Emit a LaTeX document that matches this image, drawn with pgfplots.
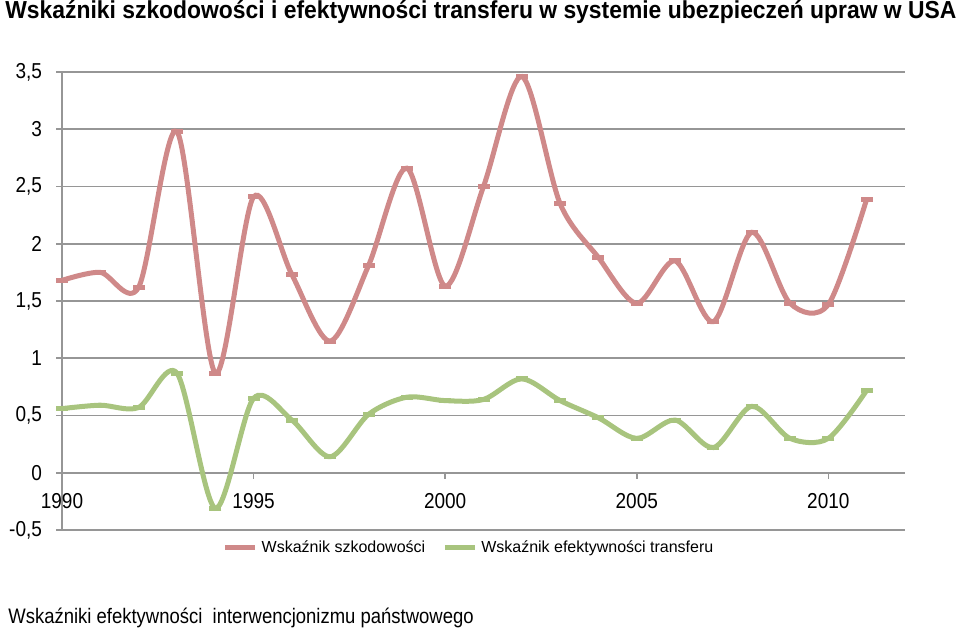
\documentclass[border=0pt]{standalone}
\usepackage{pgfplots}
\pgfplotsset{compat=1.18}
\usepackage{fontspec}
\setmainfont{Liberation Sans}
\newfontfamily\tickfont{Liberation Sans}[FakeStretch=0.88]
\newfontfamily\titlefont{Liberation Sans}[FakeStretch=0.93]

\definecolor{szkod}{RGB}{207,137,137}
\definecolor{transf}{RGB}{168,196,126}
\definecolor{siatka}{RGB}{150,150,150}

\begin{document}
\begin{tikzpicture}
\path[use as bounding box] (-31pt,-51.5pt) rectangle (449pt,265pt);
\begin{axis}[
  scale only axis, width=421.5pt, height=229pt,
  xmin=1990, xmax=2012, ymin=-0.5, ymax=3.5,
  axis x line*=middle, axis y line*=left,
  axis line style={siatka, line width=0.8pt},
  xtick={1990,1995,2000,2005,2010},
  ytick={-0.5,0,0.5,1,1.5,2,2.5,3,3.5},
  hide obscured x ticks=false,
  tick align=outside, major tick length=3pt,
  tick style={siatka, line width=0.8pt},
  ymajorgrids, major grid style={siatka, line width=0.8pt},
  /pgf/number format/use comma,
  /pgf/number format/1000 sep={},
  /pgf/number format/assume math mode=true,
  tick label style={font=\tickfont\fontsize{10.8}{12}\selectfont},
  xticklabel style={yshift=-4pt},
  yticklabel style={xshift=-3.5pt},
  legend style={at={(0.484,-0.039)}, anchor=center, draw=none, fill=none,
    font=\fontsize{8}{9.6}\selectfont, inner sep=0pt,
    /tikz/every even column/.append style={column sep=6.5pt}},
  legend columns=2,
  legend image code/.code={\draw[#1, line width=2.5pt] (0pt,0pt) -- (15pt,0pt);},
]
\addplot[szkod, line width=2.5pt, smooth, mark=-, mark size=3pt] coordinates {
  (1990,1.68) (1991,1.75) (1992,1.62) (1993,2.98) (1994,0.87)
  (1995,2.41) (1996,1.73) (1997,1.15) (1998,1.81) (1999,2.66)
  (2000,1.63) (2001,2.50) (2002,3.46) (2003,2.35) (2004,1.88)
  (2005,1.48) (2006,1.85) (2007,1.32) (2008,2.10) (2009,1.48)
  (2010,1.47) (2011,2.39)
};
\addplot[transf, line width=2.5pt, smooth, mark=-, mark size=3pt] coordinates {
  (1990,0.56) (1991,0.59) (1992,0.57) (1993,0.87) (1994,-0.31)
  (1995,0.65) (1996,0.46) (1997,0.14) (1998,0.51) (1999,0.66)
  (2000,0.63) (2001,0.64) (2002,0.82) (2003,0.63) (2004,0.48)
  (2005,0.30) (2006,0.46) (2007,0.22) (2008,0.58) (2009,0.30)
  (2010,0.30) (2011,0.72)
};
\legend{Wskaźnik szkodowości, Wskaźnik efektywności transferu}
\end{axis}
\node[anchor=base west, inner sep=0pt, font=\titlefont\bfseries\fontsize{12.3}{14}\selectfont]
  at (-28.5pt,255.5pt) {Wskaźniki szkodowości i efektywności transferu w systemie ubezpieczeń upraw w USA};
\node[anchor=base west, inner sep=0pt, font=\tickfont\fontsize{10.5}{12.5}\selectfont]
  at (-27pt,-46.5pt) {Wskaźniki efektywności\ \ interwencjonizmu państwowego};
\end{tikzpicture}
\end{document}
